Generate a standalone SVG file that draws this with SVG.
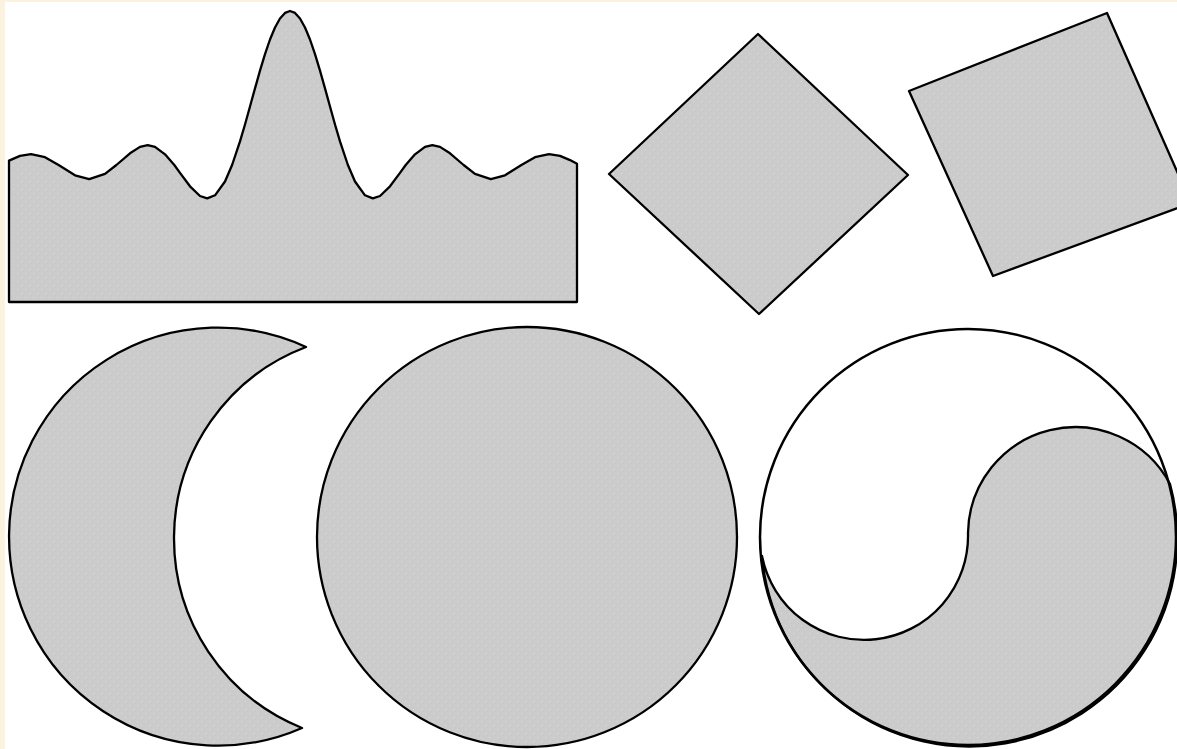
<svg xmlns="http://www.w3.org/2000/svg" width="1177" height="749" viewBox="0 0 1177 749">
<style>
.shape{fill:url(#dots);stroke:#000;stroke-width:2.3;stroke-linejoin:round}
.line{fill:none;stroke:#000;stroke-width:2.5}
</style>
<defs>
<pattern id="dots" width="8" height="8" patternUnits="userSpaceOnUse">
<rect width="8" height="8" fill="#cbcbcb"/>
<rect x="1" y="1" width="1" height="1" fill="#dcdcdc"/>
<rect x="5" y="5" width="1" height="1" fill="#dcdcdc"/>
</pattern>
</defs>
<rect width="1177" height="749" fill="#fff"/>
<rect width="5" height="749" fill="#fdf2df"/>
<rect width="1177" height="2" fill="#fdf2df"/>
<g id="wave">
<polygon class="shape" points="9,160.6 20,155.9 31,154.1 45,157.2 58.6,165 75,175.3 89.2,179.1 105,173.9 116.4,165 130,153.3 140,146.9 147.7,145.2 155,146.8 165,154.3 174.3,165 180,172.9 190,186.3 200,196 207.2,198.4 215,195.3 225,181.5 232.1,165 240,141.4 245,124.5 250,106.5 255,88.4 260,70.6 265,54.1 270,39.5 275,27.5 280,18.5 285,12.9 290,11 295,12.9 300,18.5 305,27.5 310,39.5 315,54.1 320,70.6 325,88.4 330,106.5 335,124.5 340,141.4 347.9,165 355,181.5 365,195.3 372.8,198.4 380,196 390,186.3 400,172.9 405.7,165 415,154.3 425,146.8 432.3,145.2 440,146.9 450,153.3 463.6,165 475,173.9 490.8,179.1 505,175.3 521.4,165 535,157.2 549,154.1 560,155.9 570,160.1 577,163.8 577,302 9,302"/>
</g>
<g id="diamond">
<polygon class="shape" points="758,34 908,175 759,314 609,174"/>
</g>
<g id="tilted-square">
<polygon class="shape" points="909,91 1107,13 1191,203 993,276"/>
</g>
<g id="crescent">
<path class="shape" d="M306,347 A209,209 0 1 0 302,728 A204.6,204.6 0 0 1 306,347 Z"/>
</g>
<g id="circle">
<circle class="shape" cx="527" cy="537" r="210"/>
</g>
<g id="yinyang">
<path class="shape" d="M762,556 A104,104 0 0 0 968,533 A107.3,107.3 0 0 1 1170,484 A208,208 0 1 1 762,556 Z"/>
<circle class="line" cx="968" cy="537" r="208"/>
</g>
</svg>
